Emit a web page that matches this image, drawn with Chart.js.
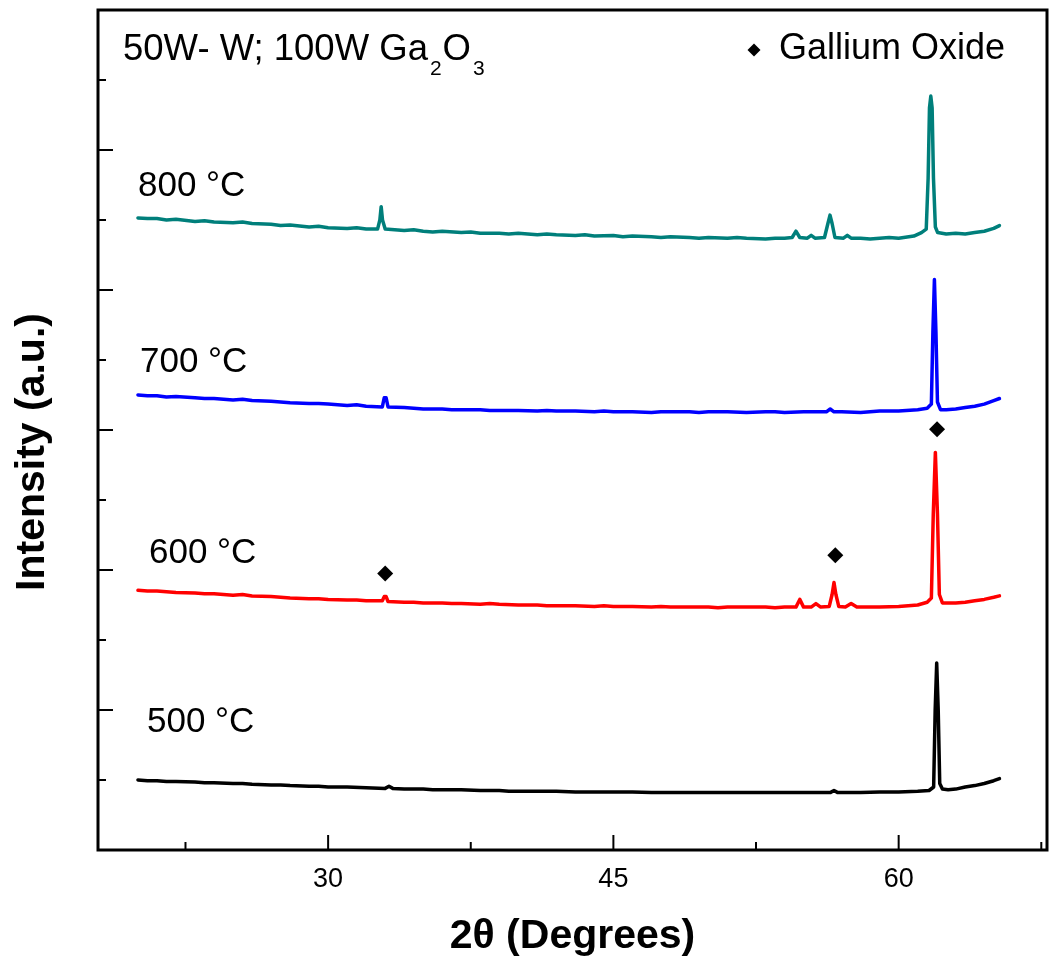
<!DOCTYPE html>
<html><head><meta charset="utf-8">
<script src="https://cdn.jsdelivr.net/npm/chart.js@4.4.1/dist/chart.umd.min.js"></script>
<style>html,body{margin:0;padding:0;background:#fff;}canvas{display:block;}</style>
</head><body>
<canvas id="c" width="1055" height="961"></canvas>
<script>
// ---- data (2θ in degrees, intensity in arbitrary offset units) ----
const xrd800 = [[20,9.03],[20.5,9.02],[21,9.02],[21.5,9.00],[22,9.01],[23,8.98],[23.5,8.99],[24,8.97],[25,8.96],[25.5,8.97],[26,8.95],[27,8.94],[27.5,8.92],[28,8.93],[29,8.90],[29.5,8.91],[30,8.89],[31,8.88],[31.5,8.89],[32,8.87],[32.6,8.87],[32.72,9.0],[32.79,9.19],[32.86,9.0],[33.0,8.87],[33.5,8.86],[34,8.85],[34.5,8.86],[35,8.84],[35.5,8.83],[36,8.84],[37,8.82],[37.5,8.83],[38,8.81],[39,8.81],[39.5,8.80],[40,8.81],[41,8.79],[41.5,8.80],[42,8.79],[43,8.78],[43.5,8.79],[44,8.77],[45,8.78],[45.5,8.76],[46,8.77],[47,8.76],[47.5,8.75],[48,8.76],[49,8.75],[49.5,8.74],[50,8.75],[51,8.74],[51.5,8.75],[52,8.74],[53,8.73],[53.5,8.74],[54,8.74],[54.4,8.75],[54.6,8.84],[54.8,8.75],[55.2,8.74],[55.4,8.78],[55.6,8.74],[56.1,8.75],[56.28,8.95],[56.39,9.07],[56.5,8.95],[56.65,8.75],[57.1,8.74],[57.3,8.78],[57.5,8.74],[58,8.74],[58.5,8.73],[59,8.74],[59.5,8.75],[60,8.74],[60.8,8.77],[61.2,8.82],[61.45,8.87],[61.55,9.6],[61.62,10.6],[61.69,10.77],[61.76,10.6],[61.83,9.6],[61.93,8.9],[62.05,8.82],[62.5,8.80],[63,8.81],[63.5,8.80],[64,8.82],[64.5,8.84],[65,8.88],[65.3,8.92]];
const xrd700 = [[20,6.50],[20.5,6.49],[21,6.49],[21.5,6.47],[22,6.48],[23,6.46],[23.5,6.45],[24,6.45],[25,6.43],[25.5,6.44],[26,6.42],[27,6.41],[27.5,6.40],[28,6.39],[29,6.38],[29.5,6.38],[30,6.37],[31,6.35],[31.5,6.36],[32,6.34],[32.85,6.33],[32.95,6.46],[33.05,6.46],[33.15,6.33],[34,6.32],[34.5,6.31],[35,6.30],[36,6.30],[36.5,6.29],[37,6.29],[38,6.29],[38.5,6.28],[39,6.28],[40,6.28],[41,6.27],[41.5,6.28],[42,6.27],[43,6.27],[44,6.26],[44.5,6.27],[45,6.26],[46,6.26],[47,6.25],[47.5,6.26],[48,6.26],[49,6.26],[49.5,6.25],[50,6.26],[51,6.26],[52,6.25],[53,6.26],[53.5,6.26],[54,6.25],[55,6.26],[56.2,6.26],[56.4,6.30],[56.6,6.26],[57,6.26],[58,6.25],[59,6.27],[60,6.27],[61,6.29],[61.5,6.31],[61.72,6.37],[61.8,7.4],[61.88,8.15],[61.96,7.4],[62.04,6.4],[62.2,6.29],[62.5,6.29],[63,6.30],[63.5,6.32],[64,6.34],[64.5,6.37],[65,6.42],[65.3,6.45]];
const xrd600 = [[20,3.71],[20.5,3.70],[21,3.70],[21.5,3.69],[22,3.68],[23,3.67],[23.5,3.66],[24,3.66],[25,3.64],[25.5,3.65],[26,3.63],[27,3.62],[27.5,3.61],[28,3.60],[29,3.59],[29.5,3.59],[30,3.58],[31,3.57],[31.5,3.57],[32,3.56],[32.85,3.56],[32.95,3.62],[33.05,3.62],[33.15,3.55],[34,3.54],[34.5,3.54],[35,3.53],[36,3.53],[36.5,3.52],[37,3.52],[38,3.51],[38.5,3.52],[39,3.51],[40,3.50],[41,3.50],[41.5,3.49],[42,3.49],[43,3.49],[44,3.48],[44.5,3.49],[45,3.48],[46,3.48],[47,3.47],[47.5,3.48],[48,3.47],[49,3.47],[50,3.47],[50.5,3.46],[51,3.47],[52,3.47],[53,3.47],[53.5,3.46],[54,3.47],[54.6,3.47],[54.8,3.58],[55.0,3.47],[55.4,3.47],[55.65,3.52],[55.9,3.47],[56.35,3.48],[56.5,3.65],[56.6,3.82],[56.7,3.65],[56.85,3.48],[57.2,3.47],[57.5,3.52],[57.8,3.47],[58,3.47],[59,3.47],[60,3.48],[61,3.50],[61.5,3.54],[61.72,3.60],[61.82,4.8],[61.93,5.68],[62.04,4.8],[62.14,3.65],[62.3,3.53],[62.7,3.53],[63,3.53],[63.5,3.54],[64,3.56],[64.5,3.58],[65,3.61],[65.3,3.63]];
const xrd500 = [[20,1.00],[20.5,0.99],[21,0.99],[21.5,0.98],[22,0.98],[23,0.97],[23.5,0.96],[24,0.96],[25,0.95],[25.5,0.95],[26,0.94],[27,0.93],[27.5,0.93],[28,0.92],[29,0.91],[29.5,0.91],[30,0.90],[31,0.90],[32,0.89],[33.0,0.88],[33.2,0.91],[33.4,0.88],[34,0.87],[35,0.87],[35.5,0.86],[36,0.86],[37,0.86],[38,0.85],[39,0.85],[39.5,0.84],[40,0.84],[41,0.84],[42,0.84],[43,0.83],[44,0.83],[45,0.83],[46,0.83],[47,0.82],[48,0.82],[49,0.82],[50,0.82],[51,0.82],[52,0.82],[53,0.82],[54,0.82],[55,0.82],[56.4,0.82],[56.6,0.85],[56.8,0.82],[57,0.82],[58,0.82],[59,0.83],[60,0.83],[61,0.84],[61.6,0.85],[61.84,0.90],[61.92,2.0],[62.0,2.67],[62.08,2.0],[62.16,0.95],[62.3,0.87],[62.6,0.86],[63,0.87],[63.5,0.90],[64,0.92],[64.5,0.95],[65,0.99],[65.3,1.02]];
const markerTheta = [33.0, 56.67, 62.02];
const markerIntensity = [3.95, 4.21, 6.01];
const seriesNames = ['800 °C', '700 °C', '600 °C', '500 °C'];
const xTickLabels = [30, 45, 60];
const xMin = 17.9, xMax = 67.8, yMin = 0, yMax = 12;

// ---- styles / layout ----
const colors = ['#007f7b', '#0000ff', '#ff0000', '#000000'];
const FONT = "'Liberation Sans', Arial, Helvetica, sans-serif";
const labelPos = [[138, 196], [140, 372], [149, 563], [147, 732]];

const toPts = arr => arr.map(p => ({x: p[0], y: p[1]}));
const seriesData = [xrd800, xrd700, xrd600, xrd500];
const datasets = seriesData.map((d, i) => ({
  label: seriesNames[i], data: toPts(d), borderColor: colors[i], backgroundColor: colors[i],
  borderWidth: 3.5, borderJoinStyle: 'round', borderCapStyle: 'round',
  pointRadius: 0, tension: 0, showLine: true, fill: false
}));
datasets.push({
  label: 'Gallium Oxide', data: markerTheta.map((t, i) => ({x: t, y: markerIntensity[i]})),
  showLine: false, pointStyle: 'rectRot', pointRadius: 8, pointBackgroundColor: '#000', pointBorderColor: '#000', borderWidth: 0
});

const decor = {
  id: 'decor',
  afterDraw(chart) {
    const {ctx, chartArea: a, scales: {x, y}} = chart;
    ctx.save();
    ctx.strokeStyle = '#000';
    ctx.lineWidth = 2;
    x.ticks.forEach(t => {
      const px = x.getPixelForValue(t.value);
      const len = xTickLabels.includes(t.value) ? 15 : 8;
      ctx.beginPath(); ctx.moveTo(px, a.bottom); ctx.lineTo(px, a.bottom - len); ctx.stroke();
    });
    y.ticks.forEach(t => {
      if (t.value <= yMin || t.value >= yMax) return;
      const py = y.getPixelForValue(t.value);
      const len = (t.value % 2 === 0) ? 15 : 8;
      ctx.beginPath(); ctx.moveTo(a.left, py); ctx.lineTo(a.left + len, py); ctx.stroke();
    });
    ctx.lineWidth = 3;
    ctx.strokeRect(a.left, a.top, a.right - a.left, a.bottom - a.top);

    ctx.fillStyle = '#000';
    ctx.textBaseline = 'alphabetic';
    ctx.textAlign = 'left';
    ctx.font = '35px ' + FONT;
    seriesNames.forEach((n, i) => ctx.fillText(n, labelPos[i][0], labelPos[i][1]));

    // sample title with subscripts
    let tx = 123;
    const parts = [['50W- W; 100W Ga', 36.5, 60], ['2', 21, 75], ['O', 36.5, 60], ['3', 21, 75]];
    parts.forEach(([s, fs, by]) => {
      ctx.font = fs + 'px ' + FONT;
      ctx.fillText(s, tx, by);
      tx += ctx.measureText(s).width + (fs < 30 ? 1 : 2);
    });

    // legend
    ctx.beginPath();
    const cx = 754, cy = 50, r = 6.5;
    ctx.moveTo(cx, cy - r); ctx.lineTo(cx + r, cy); ctx.lineTo(cx, cy + r); ctx.lineTo(cx - r, cy); ctx.closePath();
    ctx.fill();
    ctx.font = '36px ' + FONT;
    ctx.fillText('Gallium Oxide', 779, 59);

    // y axis title
    ctx.save();
    ctx.translate(33, 452);
    ctx.rotate(-Math.PI / 2);
    ctx.textAlign = 'center';
    ctx.textBaseline = 'middle';
    ctx.font = 'bold 41px ' + FONT;
    ctx.fillText('Intensity (a.u.)', 0, 0);
    ctx.restore();
    ctx.restore();
  }
};

new Chart(document.getElementById('c'), {
  type: 'line',
  data: {datasets},
  options: {
    responsive: false, animation: false, devicePixelRatio: 1,
    layout: {padding: {left: 0, right: 7, top: 10, bottom: 0}},
    plugins: {legend: {display: false}, tooltip: {enabled: false}},
    scales: {
      x: {
        type: 'linear', min: xMin, max: xMax,
        grid: {display: false, drawTicks: false},
        border: {display: false},
        ticks: {stepSize: 7.5, includeBounds: false, autoSkip: false, maxRotation: 0, padding: 13,
          color: '#000', font: {family: FONT, size: 27},
          callback: v => xTickLabels.includes(v) ? String(v) : ''},
        title: {display: true, text: '2θ (Degrees)', color: '#000', font: {family: FONT, size: 41, weight: 'bold'}, padding: {top: 0, bottom: 0}},
        afterFit: s => { s.height = 111; }
      },
      y: {
        type: 'linear', min: yMin, max: yMax,
        grid: {display: false, drawTicks: false},
        border: {display: false},
        ticks: {stepSize: 1, display: false},
        title: {display: false},
        afterFit: s => { s.width = 98; }
      }
    }
  },
  plugins: [decor]
});
</script>
</body></html>
